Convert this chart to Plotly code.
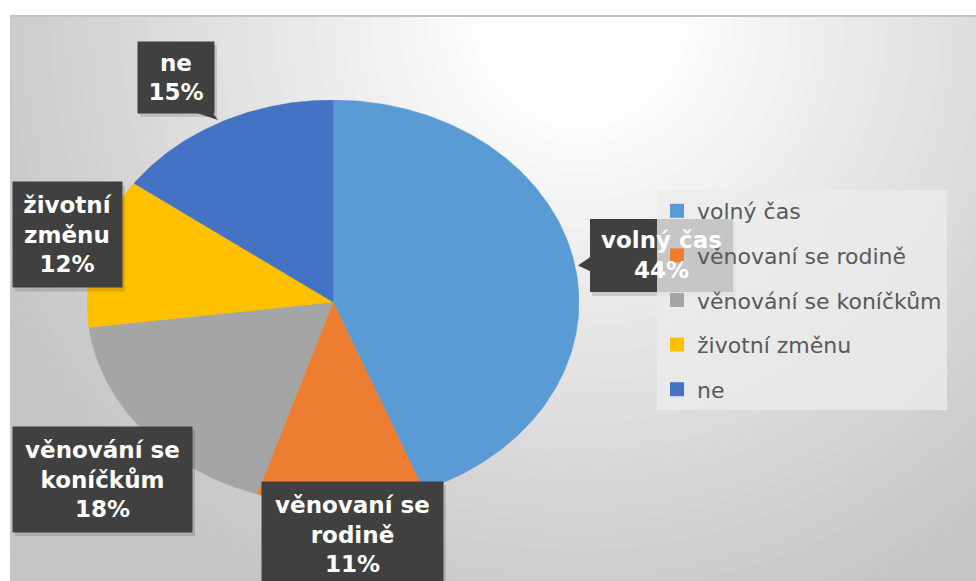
import numpy as np
import plotly.graph_objects as go

# ---- data ----
categories = ["volný čas", "věnovaní se rodině", "věnování se koníčkům", "životní změnu", "ne"]
shares = [44, 11, 18, 12, 15]
label_names = ["volný čas", "věnovaní se<br>rodině", "věnování se<br>koníčkům", "životní<br>změnu", "ne"]
colors = ["#5B9BD5", "#ED7D31", "#A5A5A5", "#FFC000", "#4472C4"]

W, H = 976, 581


def px(x):
    return x / W


def py(y):
    return 1 - y / H


fig = go.Figure()

# ---- pie wedges, clockwise from 12 o'clock, on stretched axes (elliptical pie) ----
total = sum(shares)
start = 0.0
for cat, v, col in zip(categories, shares, colors):
    end = start + v / total * 2 * np.pi
    t = np.linspace(start, end, max(3, int(v * 4)))
    xs = np.concatenate([[0], np.sin(t), [0]])
    ys = np.concatenate([[0], np.cos(t), [0]])
    fig.add_trace(go.Scatter(
        x=xs, y=ys, mode="lines", fill="toself", fillcolor=col,
        line=dict(color=col, width=0.5), name=cat, showlegend=False,
        hoverinfo="name",
    ))
    start = end

# legend entries with square swatches
for i, (cat, col) in enumerate(zip(categories, colors)):
    fig.add_trace(go.Scatter(
        x=[None], y=[None], mode="markers", name=cat, legendgroup=f"g{i}",
        marker=dict(symbol="square", size=14, color=col),
    ))

shapes = []

# ---- radial gradient background ----
gcx, gcy = 580, 20
radii = np.arange(950, 40, -14)
for r in radii:
    drop = 58 * min(1.0, max(0.0, (r - 90) / 560)) ** 0.95
    c = int(round(255 - drop))
    shapes.append(dict(
        type="circle", xref="paper", yref="paper", layer="below",
        x0=px(gcx - r), x1=px(gcx + r), y0=py(gcy + r), y1=py(gcy - r),
        fillcolor=f"rgb({c},{c},{c})", line=dict(width=0),
    ))
# white margin outside the chart frame
shapes.append(dict(type="rect", xref="paper", yref="paper", layer="below",
                   x0=0, x1=1, y0=py(15), y1=1.01, fillcolor="white", line=dict(width=0)))
shapes.append(dict(type="rect", xref="paper", yref="paper", layer="below",
                   x0=-0.01, x1=px(10), y0=-0.01, y1=1.01, fillcolor="white", line=dict(width=0)))
shapes.append(dict(type="line", xref="paper", yref="paper", layer="below",
                   x0=px(10), x1=1, y0=py(16), y1=py(16), line=dict(color="#c3c3c3", width=2)))
shapes.append(dict(type="line", xref="paper", yref="paper", layer="below",
                   x0=px(10.5), x1=px(10.5), y0=0, y1=py(16), line=dict(color="#c8c8c8", width=1)))

# ---- data label boxes: centre x, centre y, width, height (pixels) ----
label_boxes = [
    (661.5, 255.5, 143, 73),   # volný čas
    (352.5, 534.5, 181, 105),  # věnovaní se rodině
    (102.5, 479.5, 179, 105),  # věnování se koníčkům
    (67.5, 235.0, 109, 105),   # životní změnu
    (176.0, 77.5, 76, 71),     # ne
]

annotations = []
for i, (name, v, box) in enumerate(zip(label_names, shares, label_boxes)):
    cx, cy, w, h = box
    text = f"{name}<br>{v}%"
    # soft drop shadow
    shapes.append(dict(type="rect", xref="paper", yref="paper", layer="above",
                       x0=px(cx - w / 2 + 2), x1=px(cx + w / 2 + 3),
                       y0=py(cy + h / 2 + 4), y1=py(cy - h / 2 + 3),
                       fillcolor="rgba(0,0,0,0.13)", line=dict(width=0)))
    font = dict(family="DejaVu Sans", size=23, color="white", weight="bold")
    if i == 0:
        # box drawn as a shape so the legend panel sits over it
        shapes.append(dict(type="rect", xref="paper", yref="paper", layer="above",
                           x0=px(cx - w / 2), x1=px(cx + w / 2),
                           y0=py(cy + h / 2), y1=py(cy - h / 2),
                           fillcolor="#404040", line=dict(width=0)))
        shapes.append(dict(type="path", xref="paper", yref="paper", layer="above",
                           path=f"M {px(cx - w / 2 + 1)},{py(cy + 1)} L {px(578)},{py(cy + 10)} "
                                f"L {px(cx - w / 2 + 1)},{py(cy + 16)} Z",
                           fillcolor="#404040", line=dict(width=0)))
        annotations.append(dict(x=px(cx), y=py(cy), xref="paper", yref="paper",
                                xanchor="center", yanchor="middle",
                                text=text, showarrow=False, font=font, align="center"))
    else:
        annotations.append(dict(x=px(cx), y=py(cy), xref="paper", yref="paper",
                                xanchor="center", yanchor="middle",
                                text=text, showarrow=False, font=font, align="center",
                                bgcolor="#404040", width=w, height=h, borderpad=0,
                                valign="middle"))

# callout pointer for "ne"
shapes.append(dict(type="path", xref="paper", yref="paper", layer="above",
                   path=f"M {px(194)},{py(112)} L {px(218)},{py(120)} L {px(212)},{py(112)} Z",
                   fillcolor="#404040", line=dict(width=0)))

fig.update_layout(
    width=W, height=H,
    margin=dict(l=0, r=0, t=0, b=0),
    paper_bgcolor="white",
    plot_bgcolor="rgba(0,0,0,0)",
    xaxis=dict(domain=[px(333 - 246), px(333 + 246)], range=[-1, 1], visible=False, fixedrange=True),
    yaxis=dict(domain=[py(302 + 202), py(302 - 202)], range=[-1, 1], visible=False, fixedrange=True),
    shapes=shapes,
    annotations=annotations,
    showlegend=True,
    legend=dict(
        x=px(657), y=py(190), xanchor="left", yanchor="top",
        bgcolor="rgba(236,236,236,0.78)", borderwidth=0,
        font=dict(family="DejaVu Sans", size=22, color="#595959"),
        traceorder="grouped", tracegroupgap=13, itemclick=False,
    ),
)

fig.write_html("out.html")
